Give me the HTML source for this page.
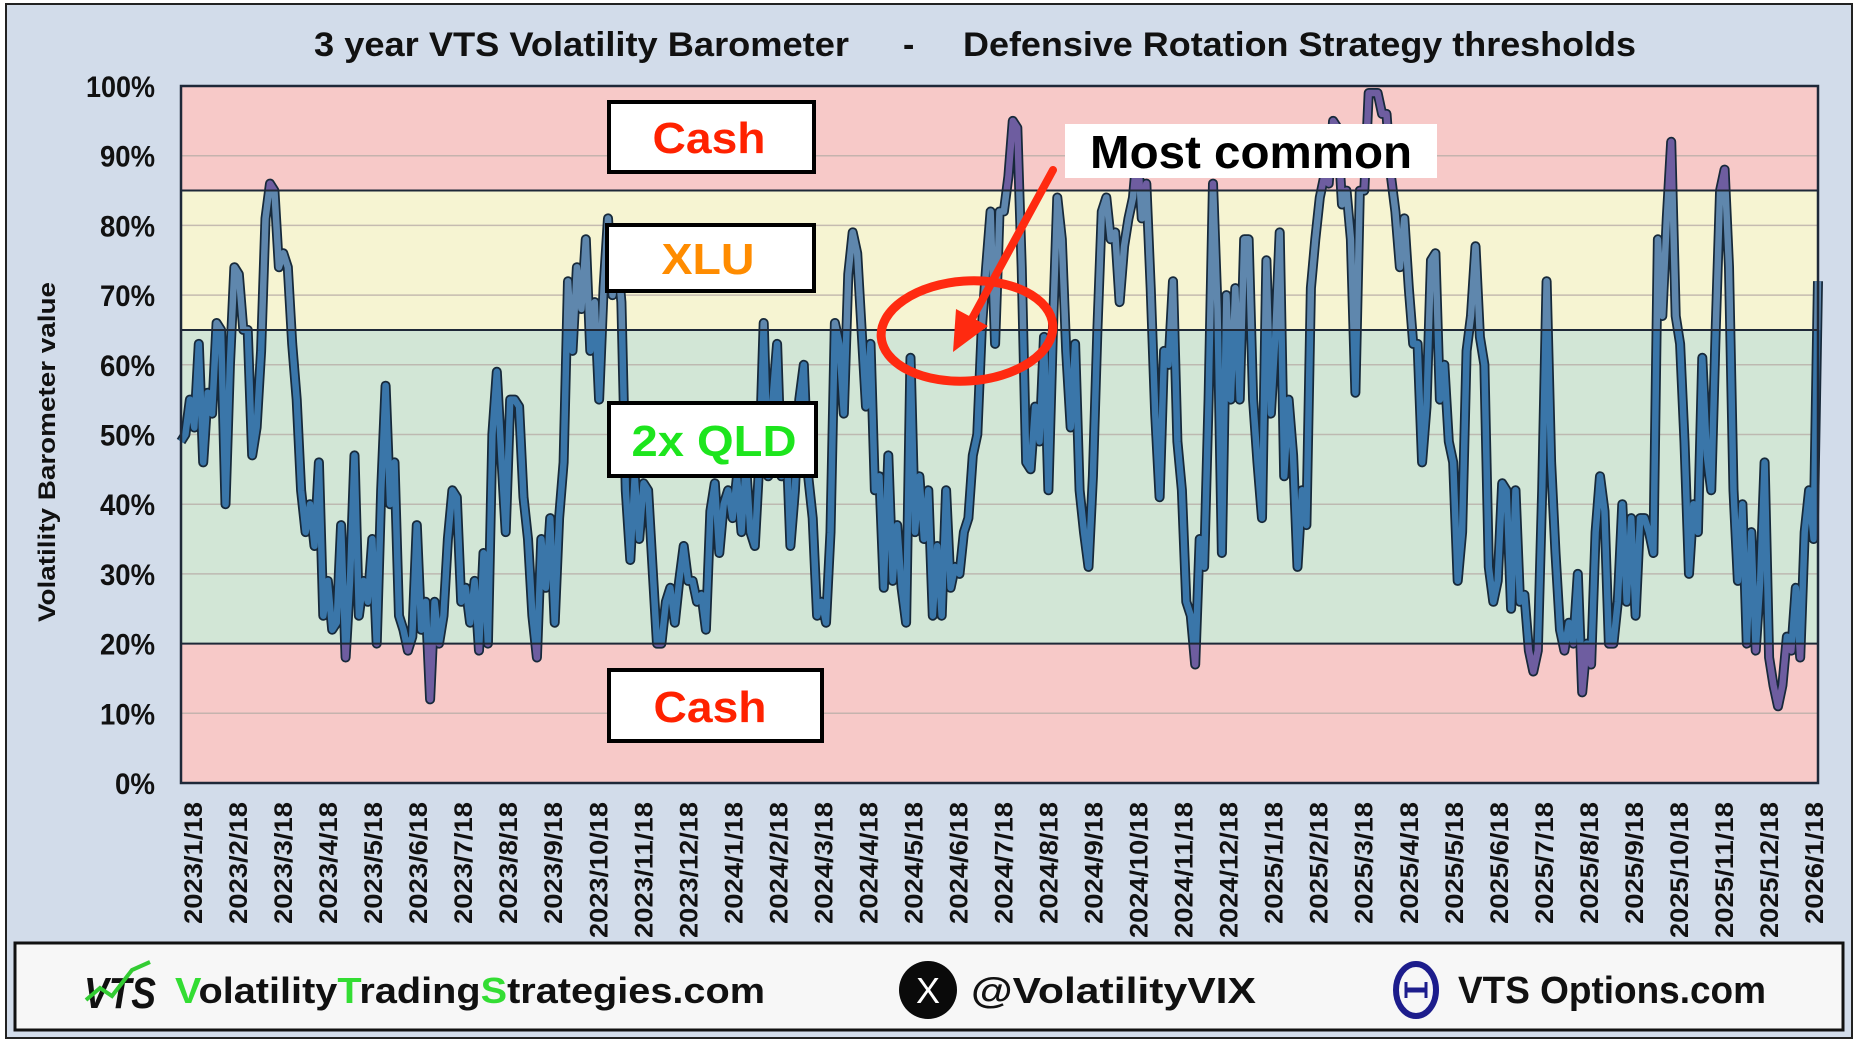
<!DOCTYPE html>
<html><head><meta charset="utf-8"><style>
html,body{margin:0;padding:0;background:#fff}
svg{display:block}
text{font-family:"Liberation Sans",sans-serif}
</style></head><body>
<svg id="chart" width="1859" height="1045" viewBox="0 0 1859 1045" xmlns="http://www.w3.org/2000/svg">
<rect x="6" y="4" width="1846" height="1034" fill="#d2dcea" stroke="#222" stroke-width="2"/>
<g font-weight="bold" font-size="34" fill="#111">
<text x="314" y="56" textLength="535" lengthAdjust="spacingAndGlyphs">3 year VTS Volatility Barometer</text>
<text x="903" y="56">-</text>
<text x="963" y="56" textLength="673" lengthAdjust="spacingAndGlyphs">Defensive Rotation Strategy thresholds</text>
</g>
<g id="plot"></g>
<text transform="translate(55,452) rotate(-90)" text-anchor="middle" font-weight="bold" font-size="24" textLength="340" lengthAdjust="spacingAndGlyphs" fill="#111">Volatility Barometer value</text>
<g id="yticks"></g>
<g id="xticks"></g>

<g>
<rect x="609" y="102" width="205" height="70" fill="#fff" stroke="#000" stroke-width="4"/>
<text x="709" y="153" text-anchor="middle" font-size="44" font-weight="bold" fill="#ff2200" textLength="113" lengthAdjust="spacingAndGlyphs">Cash</text>
</g>
<g>
<rect x="607" y="225" width="207" height="66" fill="#fff" stroke="#000" stroke-width="4"/>
<text x="708" y="274" text-anchor="middle" font-size="44" font-weight="bold" fill="#ff8c00" textLength="93" lengthAdjust="spacingAndGlyphs">XLU</text>
</g>
<g>
<rect x="609" y="403" width="207" height="73" fill="#fff" stroke="#000" stroke-width="4"/>
<text x="714" y="456" text-anchor="middle" font-size="44" font-weight="bold" fill="#1de51d" textLength="165" lengthAdjust="spacingAndGlyphs">2x QLD</text>
</g>
<g>
<rect x="609" y="670" width="213" height="71" fill="#fff" stroke="#000" stroke-width="4"/>
<text x="710" y="722" text-anchor="middle" font-size="44" font-weight="bold" fill="#ff2200" textLength="113" lengthAdjust="spacingAndGlyphs">Cash</text>
</g>
<g>
<rect x="1065" y="124" width="372" height="54" fill="#fff"/>
<text x="1090" y="168" font-size="46" font-weight="bold" fill="#000" textLength="322" lengthAdjust="spacingAndGlyphs">Most common</text>
<ellipse cx="967" cy="331" rx="86" ry="50" fill="none" stroke="#ff2a10" stroke-width="9" transform="rotate(-4 967 331)"/>
<line x1="1053" y1="170" x2="968" y2="326" stroke="#ff2a10" stroke-width="8" stroke-linecap="round"/>
<polygon points="953,352 988,326 956,309" fill="#ff2a10"/>
</g>

<g>
<rect x="15" y="943" width="1828" height="87" fill="#f7f7f7" stroke="#111" stroke-width="3"/>
<g>
<text x="84" y="1008" font-size="44" font-weight="bold" font-style="italic" fill="#111" textLength="72" lengthAdjust="spacingAndGlyphs">VTS</text>
<polyline points="86,1000 100,988 112,996 132,970 150,962" fill="none" stroke="#33cc33" stroke-width="4"/>
</g>
<text x="175" y="1003" font-size="36" font-weight="bold" fill="#111" textLength="590" lengthAdjust="spacingAndGlyphs"><tspan fill="#33dd33">V</tspan>olatility<tspan fill="#33dd33">T</tspan>rading<tspan fill="#33dd33">S</tspan>trategies.com</text>
<circle cx="928" cy="990" r="29" fill="#0a0a0a"/>
<text x="928" y="1003" text-anchor="middle" font-size="36" fill="#fff">X</text>
<text x="971" y="1003" font-size="36" font-weight="bold" fill="#111" textLength="285" lengthAdjust="spacingAndGlyphs">@VolatilityVIX</text>
<g>
<ellipse cx="1416" cy="990" rx="20" ry="26" fill="none" stroke="#1d1d8c" stroke-width="6"/>
<line x1="1406" y1="990" x2="1426" y2="990" stroke="#1d1d8c" stroke-width="5"/>
<line x1="1406" y1="982" x2="1406" y2="998" stroke="#1d1d8c" stroke-width="3"/>
<line x1="1426" y1="982" x2="1426" y2="998" stroke="#1d1d8c" stroke-width="3"/>
</g>
<text x="1458" y="1003" font-family="Liberation Serif, serif" font-size="38" font-weight="bold" fill="#111" textLength="308" lengthAdjust="spacingAndGlyphs">VTS Options.com</text>
</g>
</svg>
<script>
const yTicks = [0,10,20,30,40,50,60,70,80,90,100];
const thresholds = [20,65,85];
const xLabels = ["2023/1/18","2023/2/18","2023/3/18","2023/4/18","2023/5/18","2023/6/18","2023/7/18","2023/8/18","2023/9/18","2023/10/18","2023/11/18","2023/12/18","2024/1/18","2024/2/18","2024/3/18","2024/4/18","2024/5/18","2024/6/18","2024/7/18","2024/8/18","2024/9/18","2024/10/18","2024/11/18","2024/12/18","2025/1/18","2025/2/18","2025/3/18","2025/4/18","2025/5/18","2025/6/18","2025/7/18","2025/8/18","2025/9/18","2025/10/18","2025/11/18","2025/12/18","2026/1/18"];
const values2023a = [49,50,55,51,63,46,56,53,66,65,40,60,74,73,65,65,47,51,62,81,86,85,74,76,74,63,55,42,36,40,34,46,24,29,22,23,37,18,29,47,24,29,26,35,20,42,57,40,46,24,22,19,21,37,22,26,12,26,20,24,35,42,41,26,28,23,29,19,33,20,50,59,47,36,55,55,54,41,35,24,18,35,28,38,23,38,46,72,62,74,68,78,62,69,55,71,81];
const values2023b = [70,76,69,42,32,44,35,43,42,31,20,20,26,28,23,29,34,29,29,26,27,22,39,43,33,40,42,38,44,36,46,36,34,46,66,44,55,63,44,51,34,42,55,60,44,38,24,26,23,36,66,63,53,73,79,76,65,54,63,42,44,28,47,29,37,28,23,61,36,44,35,42,24,34,24,42,28,31,30,36,38,47,50,65,74,82];
const values2024 = [63,82,82,87,95,94,74,46,45,54,49,64,42,65,84,78,62,51,63,42,36,31,44,65,82,84,78,79,69,77,81,84,91,81,86,71,53,41,62,60,72,49,42,26,24,17,35,31,55,86,68,33,70,55,71,55,78,78,55,46,38,75,53,64,79,44,55,47,31,42,37,71,78,84,87,86,95,94,83,85,78,56,85,85,99,99,99,96];
const values2025 = [96,87,82,74,81,71,63,63,46,54,75,76,55,60,49,46,29,36,62,67,77,64,60,31,26,29,43,42,25,42,26,27,19,16,19,42,72,46,33,22,19,23,20,30,13,20,17,36,44,39,20,20,26,40,26,38,24,38,38,36,33,78,67,81,92,67,63,49,30,40,36,61,47,42,65,85,88,74,42,29,40,20,36,19,29,46,18,14,11,14,21,19,28,18,36,42,35,72];
const values = values2023a.concat(values2023b, values2024, values2025);

const NS = "http://www.w3.org/2000/svg";
const PL = 181, PR = 1818, PT = 86, PB = 783;
function yScale(v){ return PB - (v/100)*(PB-PT); }
function xScale(i){ return PL + i/(values.length-1)*(PR-PL); }
function tickX(i){ return 193 + i*(1814-193)/(xLabels.length-1); }
function mk(tag, attrs, parent){ const e=document.createElementNS(NS,tag); for(const k in attrs) e.setAttribute(k,attrs[k]); parent.appendChild(e); return e; }

const plot = document.getElementById('plot');
const defs = mk('defs',{},plot);
function clip(id,y1,y2){ const c=mk('clipPath',{id:id},defs); mk('rect',{x:PL-10,y:y1,width:PR-PL+20,height:y2-y1},c); }
clip('clipRed1',0,yScale(85));
clip('clipYel',yScale(85),yScale(65));
clip('clipGrn',yScale(65),yScale(20));
clip('clipRed2',yScale(20),1045);
clip('clipPlot',PT,PB);

const bandRed1 = mk('rect',{x:PL,y:PT,width:PR-PL,height:yScale(85)-PT,fill:'#f7c9c8'},plot);


const bandYel = mk('rect',{x:PL,y:yScale(85),width:PR-PL,height:yScale(65)-yScale(85),fill:'#f6f4d2'},plot);


const bandGrn = mk('rect',{x:PL,y:yScale(65),width:PR-PL,height:yScale(20)-yScale(65),fill:'#d2e6d6'},plot);


const bandRed2 = mk('rect',{x:PL,y:yScale(20),width:PR-PL,height:PB-yScale(20),fill:'#f7c9c8'},plot);



yTicks.forEach(v=>{
  if(v===0||v===100) return;
  const g = mk('line',{x1:PL,x2:PR,y1:yScale(v),y2:yScale(v),stroke:'#b9aea8','stroke-width':1.5,opacity:0.8},plot);
  
  
});

let d='';
values.forEach((v,i)=>{ d += (i?'L':'M') + xScale(i).toFixed(1) + ',' + yScale(v).toFixed(1); });
const series = mk('g',{'clip-path':'url(#clipPlot)'},plot);


mk('path',{d:d,fill:'none',stroke:'#17293a','stroke-width':10,'stroke-linejoin':'round'},series);
[['clipRed1','#6e5da0'],['clipYel','#5f87ad'],['clipGrn','#3a76a9'],['clipRed2','#6e5da0']].forEach(p=>{
  const pth = mk('path',{d:d,fill:'none',stroke:p[1],'stroke-width':6.5,'stroke-linejoin':'round','clip-path':'url(#'+p[0]+')'},series);
  
  
});

thresholds.forEach(v=>{
  const t = mk('line',{x1:PL,x2:PR,y1:yScale(v),y2:yScale(v),stroke:'#1e2838','stroke-width':2},plot);
  
  
});
const frame = mk('rect',{x:PL,y:PT,width:PR-PL,height:PB-PT,fill:'none',stroke:'#1e2838','stroke-width':2.5},plot);



const yg = document.getElementById('yticks');
yTicks.forEach(v=>{
  const s = v+'%';
  const len = s.length===4?69:(s.length===3?55:40);
  const t = mk('text',{x:155,y:yScale(v)+11,'text-anchor':'end','font-size':30,'font-weight':'bold',fill:'#111',textLength:len,lengthAdjust:'spacingAndGlyphs'},yg);
  t.textContent = s;
  
  
});

const xg = document.getElementById('xticks');
xLabels.forEach((s,i)=>{
  const x = tickX(i)+9;
  const len = s.length>=10?136:122;
  const t = mk('text',{transform:'translate('+x+',802) rotate(-90)','text-anchor':'end','font-size':25,'font-weight':'bold',fill:'#111',textLength:len,lengthAdjust:'spacingAndGlyphs'},xg);
  t.textContent = s;
  
  
});
</script>
</body></html>
